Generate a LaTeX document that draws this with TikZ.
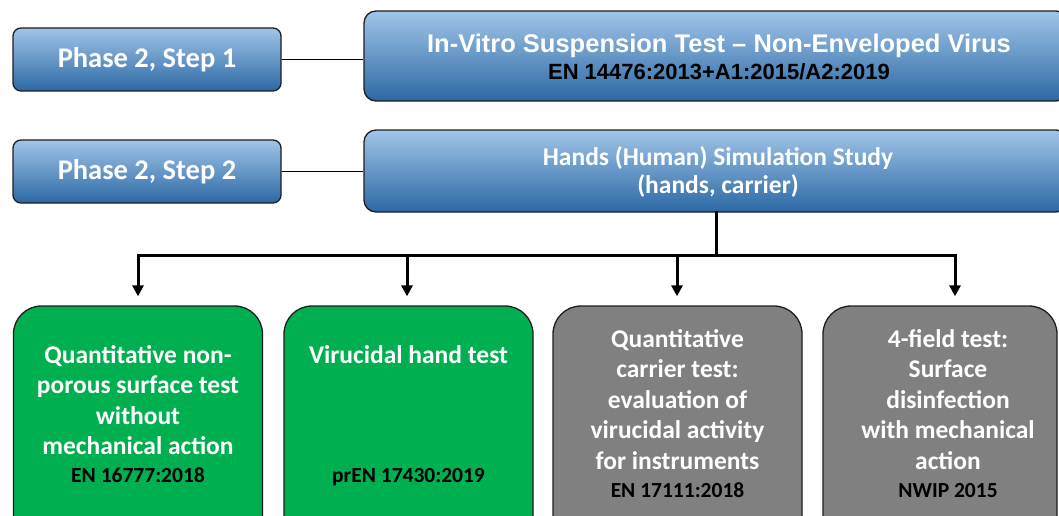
\documentclass[tikz,border=0pt]{standalone}
\usepackage{fontspec}
\setmainfont{Carlito}
\newfontfamily\arialf{Liberation Sans}
\usetikzlibrary{arrows.meta}
\definecolor{bluetop}{RGB}{160,197,232}
\definecolor{bluemid}{RGB}{93,152,210}
\definecolor{bluebot}{RGB}{44,104,164}
\definecolor{boxgreen}{RGB}{0,176,80}
\definecolor{boxgray}{RGB}{128,128,128}
\definecolor{edge}{RGB}{30,30,30}
\begin{document}
\begin{tikzpicture}[x=1pt,y=-1pt,
  bluebox/.style={draw=edge, line width=1.3pt, top color=bluetop, middle color=bluemid, bottom color=bluebot, inner sep=0pt},
  phasebox/.style={bluebox, rounded corners=8pt, minimum width=268pt, minimum height=63pt,
     text=white, font=\fontsize{28.5}{32}\selectfont\bfseries},
  headbox/.style={bluebox, rounded corners=12pt, minimum width=704pt},
  testbox/.style={draw=edge, line width=1.3pt, rounded corners=28pt, minimum width=249pt, minimum height=240pt, inner sep=0pt},
  titletxt/.style={anchor=base, align=center, inner sep=0pt, text=white, font=\fontsize{25.5}{30.5}\selectfont\bfseries},
  codetxt/.style={anchor=base, align=center, inner sep=0pt, text=black, font=\fontsize{21.5}{25}\selectfont\bfseries},
  thinlink/.style={draw=black, line width=1.2pt},
  bus/.style={draw=black, line width=3pt, line cap=rect},
  drop/.style={draw=black, line width=3pt, -{Triangle[width=11pt,length=11pt]}, shorten >=9pt}
]
\clip (0,0) rectangle (1059,516);
\fill[white] (0,0) rectangle (1059,516);

% left phase boxes
\node[phasebox] (p1) at (147,59.5) {Phase 2, Step 1};
\node[phasebox] (p2) at (147,171.5) {Phase 2, Step 2};

% header boxes
\node[headbox, minimum height=90pt] (h1) at (716,56) {};
\node[titletxt, font=\arialf\fontsize{25.5}{30}\selectfont\bfseries] (h1a) at (719,52.5) {In-Vitro Suspension Test \textendash{} Non-Enveloped Virus};
\node[codetxt, font=\arialf\fontsize{22}{26}\selectfont\bfseries] (h1b) at (719,80) {EN 14476:2013+A1:2015/A2:2019};

\node[headbox, minimum height=82pt] (h2) at (716,171) {};
\node[titletxt] (h2a) at (718,165) {Hands (Human) Simulation Study};
\node[titletxt] (h2b) at (718,193.5) {(hands, carrier)};

\draw[thinlink] (p1.east) -- (p1.east -| h1.west);
\draw[thinlink] (p2.east) -- (p2.east -| h2.west);

% test boxes
\node[testbox, fill=boxgreen] (g1) at (138,426) {};
\node[testbox, fill=boxgreen] (g2) at (408.5,426) {};
\node[testbox, fill=boxgray] (r1) at (677.5,426) {};
\node[testbox, fill=boxgray, minimum width=234pt] (r2) at (940,426) {};

% (base anchor of a multi-line node = baseline of its last line)
\node[titletxt] (g1a) at (138,454.5) {Quantitative non-\\porous surface test\\without\\mechanical action};
\node[codetxt] (g1b) at (138,482) {EN 16777:2018};
\node[titletxt] (g2a) at (408.5,363) {Virucidal hand test};
\node[codetxt] (g2b) at (408.5,482) {prEN 17430:2019};
\node[titletxt] (r1a) at (677.5,469) {Quantitative\\carrier test:\\evaluation of\\virucidal activity\\for instruments};
\node[codetxt] (r1b) at (677.5,497) {EN 17111:2018};
\node[titletxt] (r2a) at (948,469) {4-field test:\\Surface\\disinfection\\with mechanical\\action};
\node[codetxt] (r2b) at (948,497) {NWIP 2015};

% connectors
\coordinate (hub) at (716,255);
\coordinate (b1) at (138,255);
\coordinate (b2) at (407,255);
\coordinate (b3) at (677,255);
\coordinate (b4) at (955,255);
\draw[bus] (h2.south) -- (hub);
\draw[bus] (b1) -- (b4);
\draw[drop] (b1) -- (b1 |- g1.north);
\draw[drop] (b2) -- (b2 |- g2.north);
\draw[drop] (b3) -- (b3 |- r1.north);
\draw[drop] (b4) -- (b4 |- r2.north);
\end{tikzpicture}
\end{document}
